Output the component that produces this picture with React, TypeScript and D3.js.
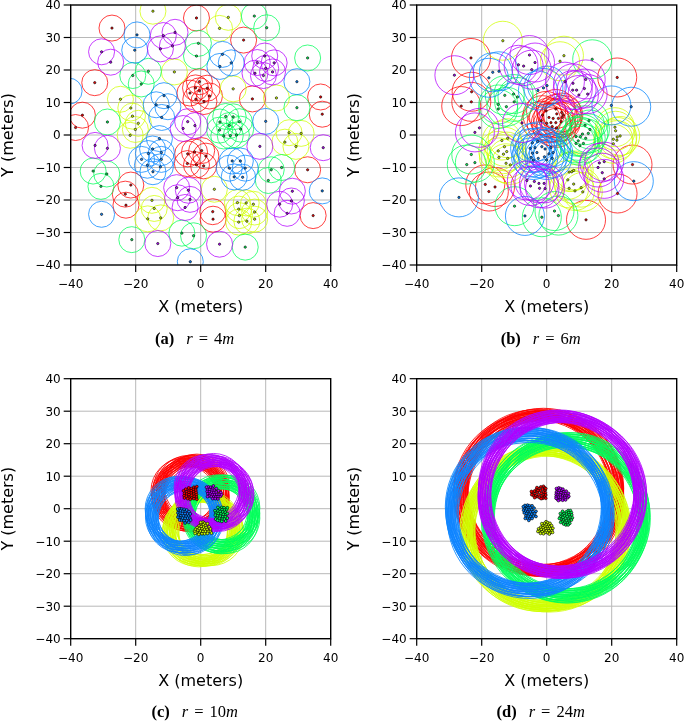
import React from "react";
import * as d3 from "d3";

type P = [number, number];

const xTicks = [-40, -20, 0, 20, 40];
const yTicks = [-40, -30, -20, -10, 0, 10, 20, 30, 40];
const seriesColors = ["#ff0000", "#d0ff00", "#00ff5a", "#0a84ff", "#b400ff"];

// Panel (a) r = 4
const aRed: P[] = [[-27.3,32.9],[-1.3,36],[13.2,29.2],[-32.6,16.1],[-36.4,6.1],[-38.5,2.3],[15.9,11.1],[36.9,11.7],[37.4,6.4],[32.9,-10.7],[34.6,-24.8],[-21.5,-15.4],[-23.2,-18.2],[-23,-21.6],[3.7,-23.6],[3.8,-25.9],[-0.4,16.4],[-1.6,14.5],[2,14.4],[-3.3,12.9],[-1.5,11],[2.7,12],[1,10.3],[-0.4,13.6],[-1.9,-5.2],[0.3,-4.8],[-4,-5.8],[1.6,-6.5],[-4.1,-8.8],[-1.3,-9.2],[0.9,-9.5]];
const aYellow: P[] = [[-14.7,38.1],[8.5,36.2],[5.8,32.8],[-8.1,19.4],[10,14.2],[23.3,11.4],[-24.7,11],[-21.5,8.3],[-21,5.8],[-19.2,3.6],[-20.1,1.7],[-21.7,-0.1],[27.2,0.7],[30.9,0.5],[25.9,-2.2],[29.3,-3.5],[4.2,-16.7],[-15,-20.1],[-14.3,-22.6],[-16.3,-25.8],[-12.3,-25.5],[11.3,-20.8],[14,-20.9],[16.2,-21.3],[11.7,-22.8],[11.9,-24.8],[16.6,-23.7],[11.7,-26.8],[14.2,-26.5],[16.6,-25.9]];
const aGreen: P[] = [[16.5,36.6],[20.3,33],[-0.7,28.2],[-1.3,24.3],[32.9,23.7],[-16.1,19.6],[-20.9,18.3],[-18.3,15.7],[-28.7,4],[29.6,8.4],[-33.1,-11.1],[-28.9,-12],[-30.7,-15.8],[24.9,-10],[21.7,-10.7],[20.8,-14],[-5.8,-30.2],[-2.2,-31],[-21.2,-32.2],[13.7,-34.5],[7.7,5.7],[10,5.6],[5.9,4],[11.9,4.1],[8.8,2.9],[5.8,1.5],[12.3,1.8],[7.1,-0.3],[9.1,-0.2],[11,0]];
const aBlue: P[] = [[-19.6,30.8],[-20.3,26.1],[6.7,24.8],[9.4,22.2],[5.9,21.1],[29.6,16.4],[-40.5,13.5],[-11.3,12.1],[-13.7,9.3],[-10.1,8.7],[-12,5.4],[20,4.2],[-12.7,-1.1],[-14.8,-4.3],[-16.1,-5.7],[-12.1,-5.4],[-18.2,-7.5],[-16.4,-9.3],[-12.1,-7.5],[-12.4,-9.8],[-14.7,-11.3],[9.7,-8],[12.2,-8],[8.8,-10.2],[13.7,-10.2],[10.3,-12.9],[12.9,-13],[37.4,-17.2],[-30.5,-24.4],[-3.2,-39]];
const aPurple: P[] = [[-30.5,25.6],[-27.7,22.4],[-11.5,30.6],[-7.9,31.6],[-12.4,26.5],[-8.7,27.4],[19.7,24.3],[17.4,22.3],[22.6,22.2],[16.7,19],[22.1,19.4],[19.3,18.3],[20,20.5],[-4,4.1],[-1.8,2.9],[-5.4,2],[-32.5,-3.2],[-28.7,-4.1],[18.2,-3.5],[37.7,-3.9],[-7.4,-16.2],[-3.8,-17],[-7.1,-19.3],[-3.3,-19.8],[-4.8,-22.3],[28.2,-17.3],[27.9,-20.3],[24.3,-21.3],[26.6,-24.1],[-13.2,-33.4],[5.8,-33.6]];

// Panel (b) r = 6
const bRed: P[] = [[-23.3,23.7],[-23.1,13.3],[-23.2,10.2],[-26.3,8.9],[21.7,17.7],[26.4,-9.1],[21.8,-18],[-18.9,-15.2],[-17.8,-17.4],[-15.9,-16],[12.1,-26.1],[-0.2,7.4],[2.8,8],[4.6,6.9],[0.7,5.4],[3.1,6.5],[5.1,6.1],[2,5.1],[3.6,5.1],[1.3,3.8],[2.8,3.8],[4.4,4.1],[-1.3,6.1],[-1.7,4.4],[1.7,2.6],[3,2.2],[0,3.6],[4.8,5.4]];
const bYellow: P[] = [[-13.5,29],[5.3,24.4],[4.1,22.7],[-12,-1],[-13.8,-1.7],[-13,-3.6],[-14.9,-4.9],[-12.3,-5.1],[-13.3,-5.9],[-14.7,-6.9],[-12,-7.2],[-12.5,-8.7],[-11.2,-9.2],[21,2.4],[21.2,1.3],[22.6,-0.3],[21.7,-0.6],[20.5,-1.3],[21.6,-1.6],[20.5,-2.7],[8.3,-10.9],[6.9,-11.4],[7.7,-11.3],[6.5,-13.8],[8.3,-15.1],[6.9,-16.4],[10.6,-16.2],[8.7,-17.2],[11.1,-17.5]];
const bGreen: P[] = [[14,23.3],[-9.9,-21.9],[-1.5,-25.3],[2.4,-23.4],[3.6,-24.8],[-10.2,12.6],[-9,11.7],[-12.9,12.2],[-10,10.2],[-14.9,9.4],[-14.9,8],[-12.4,8.7],[-23.2,-6],[-22.1,-8.5],[-24.6,-9.1],[13,4.4],[11.8,3],[13.3,1.7],[11,0.3],[12.8,0.5],[9,-0.5],[10.4,-0.5],[12,-1],[9.7,-1.8],[11.3,-2.6],[9,-2.6],[10.2,-3.3]];
const bBlue: P[] = [[-27,-19.2],[-6.7,-24.9],[26.8,-14.2],[19.9,9.1],[26,8.7],[-14.7,19.6],[-16.6,19.3],[-17.8,17.6],[-2.7,13.7],[-1,14.5],[0.1,15.2],[-4.4,-2.4],[-2.8,-2],[-5.1,-4.1],[-3.6,-3.9],[-4.4,-5.6],[-1.5,-3.6],[-3,-5.4],[-0.5,-4.3],[1.3,-3.9],[-4.8,-6.9],[-2.6,-7.2],[-0.7,-6.7],[0.7,-5.8],[2,-5.4],[1.7,-7.2],[0,-7.7],[-4.1,-7.7]];
const bPurple: P[] = [[-28.4,18.4],[-5.3,24.6],[-3.6,22.3],[-8.7,21.6],[-7.1,21.2],[-4.6,20.1],[5.6,16.4],[8.1,15.9],[12,17.1],[11.6,14.3],[8,13.8],[9.2,13.8],[9.9,12.3],[12.6,12.6],[-20.7,2.2],[-22.1,0.8],[-7.6,3.7],[16.2,-8.6],[17.7,-8.2],[15.8,-10],[17.1,-11.6],[17.7,-13.5],[-6.1,-14],[-5,-15.7],[-3.8,-14.3],[-2.4,-14.9],[-0.8,-14.9],[-2.2,-16.4],[-0.5,-16.5]];

// Panel (c) r = 10
const cRed: P[] = [[-2.1,6.6],[-1.5,6.4],[-2.9,6.2],[-2.2,5.9],[-1.5,5.7],[-3.6,5.7],[-2.9,5.5],[-2.2,5.2],[-1.4,5.0],[-4.3,5.2],[-3.6,5.0],[-2.9,4.8],[-2.1,4.5],[-1.3,4.3],[-5.0,4.7],[-4.3,4.5],[-3.6,4.3],[-2.8,4.1],[-2.0,3.8],[-1.3,3.6],[-5.1,4.0],[-4.4,3.8],[-3.6,3.5],[-2.8,3.3],[-2.1,3.1],[-4.0,3.1],[-1.2,6.8],[-3.7,6.4],[-4.6,6.0],[-5.3,5.5],[-1.2,2.9],[-3.2,2.9],[-5.0,3.3]];
const cYellow: P[] = [[0.7,-4.1],[1.2,-4.5],[0.1,-4.7],[0.8,-5.0],[1.5,-5.2],[-0.5,-5.3],[0.2,-5.5],[0.9,-5.7],[1.7,-5.8],[-1.1,-5.8],[-0.4,-6.1],[0.4,-6.2],[1.2,-6.4],[2.0,-6.4],[-1.6,-6.4],[-0.9,-6.7],[-0.1,-6.9],[0.7,-7.0],[1.5,-7.0],[2.3,-7.0],[3.0,-6.9],[-1.2,-7.3],[-0.4,-7.5],[0.4,-7.7],[1.2,-7.7],[2.1,-7.6],[0,-4.2],[2.1,-4.6],[2.6,-5.6],[3.0,-6.2],[-1.8,-7.0],[-1.7,-7.6],[-0.6,-7.9],[3.3,-7.5]];
const cGreen: P[] = [[6.5,0.4],[7.2,0.3],[5.9,-0.1],[6.6,-0.3],[7.3,-0.4],[8.0,-0.3],[5.3,-0.7],[6.0,-0.9],[6.8,-1.0],[7.6,-1.1],[4.7,-1.3],[5.4,-1.5],[6.2,-1.6],[7.0,-1.8],[7.8,-1.8],[4.5,-2.0],[5.2,-2.2],[6.0,-2.3],[6.8,-2.5],[7.6,-2.5],[5.0,-2.9],[5.8,-3.0],[6.6,-3.2],[7.3,-3.2],[5.8,-3.7],[6.5,-3.9],[5.3,0.4],[8.2,0.3],[4.4,-0.6],[8.2,-1.5],[8.2,-2.9],[4.6,-3.2],[7.7,-3.8],[5.2,-3.6]];
const cBlue: P[] = [[-6.4,0.0],[-5.8,-0.1],[-5.1,-0.2],[-6.9,-0.6],[-6.2,-0.7],[-5.5,-0.8],[-4.7,-0.8],[-7.0,-1.3],[-6.3,-1.4],[-5.6,-1.5],[-4.8,-1.5],[-4.0,-1.6],[-6.8,-2.0],[-6.1,-2.2],[-5.3,-2.2],[-4.5,-2.3],[-3.7,-2.3],[-6.4,-2.8],[-5.6,-2.9],[-4.8,-3.0],[-4.0,-2.9],[-3.3,-2.9],[-5.9,-3.6],[-5.1,-3.7],[-4.3,-3.7],[-4.8,-4.4],[-7.1,-0.1],[-4.3,-0.4],[-3.6,-0.9],[-3.2,-1.6],[-3.1,-3.5],[-7.0,-2.6],[-6.5,-3.5],[-3.7,-4.2]];
const cPurple: P[] = [[2.4,6.7],[3.1,6.6],[3.7,6.3],[2.1,6.0],[2.8,5.9],[3.5,5.7],[4.2,5.7],[2.0,5.3],[2.7,5.2],[3.4,5.0],[4.1,5.0],[4.8,5.1],[2.2,4.6],[2.9,4.5],[3.6,4.3],[4.3,4.3],[5.0,4.4],[5.7,4.4],[2.6,3.9],[3.3,3.7],[4.0,3.6],[4.7,3.7],[5.4,3.7],[6.1,3.8],[3.7,3.1],[4.5,3.1],[3.9,7.0],[1.8,6.6],[4.8,6.2],[5.5,5.5],[6.2,5.0],[6.4,4.3],[5.3,3.0],[2.1,3.7]];

// Panel (d) r = 24
const dRed: P[] = [[-1.0,6.9],[-0.6,6.4],[-1.8,6.7],[-2.4,6.2],[-1.3,6.0],[-0.5,5.7],[-3.2,5.9],[-2.0,5.5],[-1.0,5.1],[-0.4,4.9],[-3.8,5.4],[-2.9,5.1],[-1.7,4.7],[-0.8,4.3],[-4.5,4.9],[-3.6,4.6],[-2.5,4.3],[-1.5,3.9],[-0.6,3.6],[-4.0,4.0],[-3.0,3.7],[-2.2,3.4],[-1.2,3.2],[-4.6,4.3],[-3.4,3.9],[-2.7,5.6],[-0.3,6.2],[-3.0,6.5],[-4.7,5.3],[-0.3,4.2],[-0.3,3.2],[-3.7,3.4],[-1.7,3.1]];
const dYellow: P[] = [[-0.2,-4.0],[0.3,-4.3],[-0.7,-4.5],[-0.1,-4.9],[0.6,-5.0],[-1.2,-5.1],[-0.5,-5.4],[0.2,-5.6],[0.9,-5.6],[-1.8,-5.7],[-1.1,-5.9],[-0.3,-6.1],[0.5,-6.2],[1.2,-6.2],[-2.5,-6.2],[-1.7,-6.4],[-0.9,-6.6],[-0.1,-6.8],[0.7,-6.8],[1.6,-6.8],[-2.2,-6.9],[-1.4,-7.1],[-0.5,-7.3],[0.3,-7.4],[1.1,-7.4],[1.8,-7.3],[-1.5,-4.6],[1.0,-4.5],[1.5,-5.2],[1.9,-6.0],[-2.7,-7.0],[-1.9,-7.6],[-1.0,-7.7],[0.8,-7.8]];
const dGreen: P[] = [[6.6,-0.6],[7.3,-0.6],[6.0,-1.0],[6.8,-1.2],[7.6,-1.2],[5.3,-1.4],[6.1,-1.7],[6.9,-1.9],[7.7,-1.9],[4.7,-1.9],[5.5,-2.2],[6.3,-2.4],[7.2,-2.6],[4.2,-2.5],[5.0,-2.7],[5.8,-3.0],[6.7,-3.2],[4.4,-3.2],[5.2,-3.5],[6.1,-3.7],[6.9,-3.8],[4.8,-4.0],[5.6,-4.2],[6.4,-4.4],[5.2,-4.7],[5.9,-5.0],[4.9,-0.8],[4.2,-1.5],[3.9,-3.0],[7.9,-2.8],[7.6,-3.5],[7.1,-4.5],[4.3,-4.2],[6.6,-5.0]];
const dBlue: P[] = [[-5.9,1.1],[-5.3,0.9],[-6.4,0.6],[-5.7,0.3],[-5.0,0.3],[-6.9,0.1],[-6.2,-0.2],[-5.4,-0.4],[-4.6,-0.3],[-7.1,-0.5],[-6.5,-0.8],[-5.8,-1.0],[-5.0,-1.0],[-4.2,-0.9],[-6.9,-1.3],[-6.2,-1.5],[-5.4,-1.7],[-4.6,-1.7],[-3.7,-1.5],[-6.4,-2.2],[-5.7,-2.3],[-4.9,-2.4],[-4.1,-2.3],[-5.9,-3.0],[-5.2,-3.1],[-4.5,-3.0],[-6.7,1.0],[-7.2,0.6],[-4.5,0.9],[-3.9,0.2],[-3.3,-0.8],[-3.3,-2.4],[-6.6,-3.0],[-5.5,-3.6]];
const dPurple: P[] = [[3.7,6.4],[4.3,6.2],[3.2,5.8],[3.9,5.6],[4.7,5.6],[5.3,5.2],[3.0,5.1],[3.6,4.9],[4.4,4.9],[5.1,4.5],[5.8,4.6],[2.9,4.4],[3.5,4.2],[4.2,4.2],[4.9,3.9],[5.6,3.9],[6.4,4.0],[2.9,3.7],[3.6,3.5],[4.3,3.5],[5.0,3.2],[5.7,3.3],[6.5,3.4],[3.3,2.9],[4.1,2.8],[4.9,2.6],[3.0,6.2],[5.0,6.0],[6.0,5.4],[6.7,4.7],[6.8,3.8],[5.8,2.7],[2.9,3.2],[3.6,2.5]];

const panels = [
  { id: "a", left: 70.7, top: 5, radius: 4, label: "(a)", r: "4", ring: 0.75, dot: 1.15, series: [aRed, aYellow, aGreen, aBlue, aPurple] },
  { id: "b", left: 416.7, top: 5, radius: 6, label: "(b)", r: "6", ring: 0.75, dot: 1.15, series: [bRed, bYellow, bGreen, bBlue, bPurple] },
  { id: "c", left: 70.7, top: 378.7, radius: 10, label: "(c)", r: "10", ring: 0.85, dot: 1.4, series: [cRed, cYellow, cGreen, cBlue, cPurple] },
  { id: "d", left: 416.7, top: 378.7, radius: 24, label: "(d)", r: "24", ring: 0.85, dot: 1.4, series: [dRed, dYellow, dGreen, dBlue, dPurple] },
];

const SIZE = 260;
const sans = "'DejaVu Sans', sans-serif";
const serif = "'Liberation Serif', serif";

function Panel({ p }: { p: (typeof panels)[number] }) {
  const x = d3.scaleLinear().domain([-40, 40]).range([0, SIZE]);
  const y = d3.scaleLinear().domain([-40, 40]).range([SIZE, 0]);
  const rPx = x(p.radius) - x(0);
  const clip = `clip-${p.id}`;
  return (
    <g transform={`translate(${p.left},${p.top})`}>
      <defs>
        <clipPath id={clip}>
          <rect width={SIZE} height={SIZE} />
        </clipPath>
      </defs>
      {xTicks.slice(1, -1).map((t) => (
        <line key={t} x1={x(t)} x2={x(t)} y1={0} y2={SIZE} stroke="#b8b8b8" strokeWidth={1} />
      ))}
      {yTicks.slice(1, -1).map((t) => (
        <line key={t} y1={y(t)} y2={y(t)} x1={0} x2={SIZE} stroke="#b8b8b8" strokeWidth={1} />
      ))}
      <g clipPath={`url(#${clip})`}>
        {p.series.map((pts, i) =>
          pts.map(([a, b], j) => (
            <circle key={`c${i}-${j}`} cx={x(a)} cy={y(b)} r={rPx} fill="none" stroke={seriesColors[i]} strokeWidth={p.ring} />
          ))
        )}
        {p.series.map((pts, i) =>
          pts.map(([a, b], j) => (
            <circle key={`d${i}-${j}`} cx={x(a)} cy={y(b)} r={p.dot} fill={seriesColors[i]} stroke="#000" strokeOpacity={0.8} strokeWidth={0.8} />
          ))
        )}
      </g>
      <rect width={SIZE} height={SIZE} fill="none" stroke="#000" strokeWidth={1.4} />
      {xTicks.map((t) => (
        <g key={t}>
          <line x1={x(t)} x2={x(t)} y1={SIZE} y2={SIZE + 7} stroke="#000" strokeWidth={1.2} />
          <text x={x(t)} y={SIZE + 23} textAnchor="middle" fontFamily={sans} fontSize={12} fill="#000">
            {t < 0 ? `\u2212${-t}` : t}
          </text>
        </g>
      ))}
      {yTicks.map((t) => (
        <g key={t}>
          <line x1={-7} x2={0} y1={y(t)} y2={y(t)} stroke="#000" strokeWidth={1.2} />
          <text x={-10} y={y(t) + 4.4} textAnchor="end" fontFamily={sans} fontSize={12} fill="#000">
            {t < 0 ? `\u2212${-t}` : t}
          </text>
        </g>
      ))}
      <text x={SIZE / 2} y={SIZE + 47} textAnchor="middle" fontFamily={sans} fontSize={16} fill="#000">
        X (meters)
      </text>
      <text transform={`translate(-57.5,${SIZE / 2}) rotate(-90)`} textAnchor="middle" fontFamily={sans} fontSize={16} fill="#000">
        Y (meters)
      </text>
      <text x={SIZE / 2 - 6} y={SIZE + 78.5} textAnchor="middle" fontFamily={serif} fontSize={16.5} fill="#000">
        <tspan fontWeight="bold">{p.label}</tspan>
        <tspan dx={12} fontStyle="italic">r</tspan>
        <tspan dx={6}>=</tspan>
        <tspan dx={6}>{p.r}</tspan>
        <tspan fontStyle="italic">m</tspan>
      </text>
    </g>
  );
}

export default function App() {
  return (
    <svg width={685} height={722} viewBox="0 0 685 722" style={{ position: "absolute", left: 0, top: 0, background: "#fff" }}>
      <defs>
        <filter id="soft" x="0" y="0" width="685" height="722" filterUnits="userSpaceOnUse">
          <feGaussianBlur stdDeviation={0.35} />
        </filter>
      </defs>
      <g filter="url(#soft)">
        {panels.map((p) => (
          <Panel key={p.id} p={p} />
        ))}
      </g>
    </svg>
  );
}
